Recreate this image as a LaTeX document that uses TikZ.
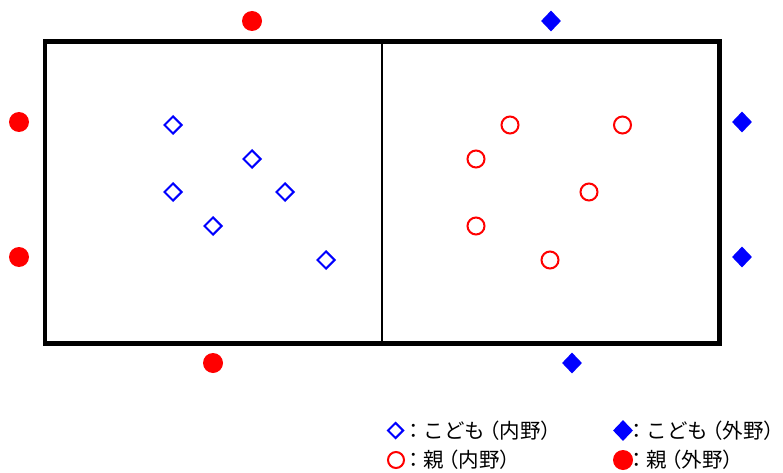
\documentclass[tikz,border=0pt]{standalone}
\usepackage{fontspec}
\newfontfamily\jp{Noto Sans CJK JP}
\usetikzlibrary{shapes.geometric}
\definecolor{mred}{RGB}{255,0,0}
\definecolor{mblue}{RGB}{0,0,255}
\newcommand{\jlp}{\hspace{-0.3em}（}
\newcommand{\jrp}{）\hspace{-0.5em}}
\tikzset{
  kidin/.style={shape=diamond, draw=mblue, line width=2pt, inner sep=0pt, minimum width=18pt, minimum height=18pt, aspect=1},
  kidout/.style={shape=diamond, fill=mblue, inner sep=0pt, minimum width=20pt, minimum height=21pt},
  parin/.style={shape=circle, draw=mred, line width=2pt, inner sep=0pt, minimum size=17pt},
  parout/.style={shape=circle, fill=mred, inner sep=0pt, minimum size=20pt},
  legtext/.style={anchor=west, inner sep=0pt, font=\jp\fontsize{20.5}{24}\selectfont},
}
\begin{document}
\begin{tikzpicture}[x=1pt,y=-1pt]
\useasboundingbox (0,0) rectangle (783,473);
% court
\coordinate (tl) at (44.75,41.3);
\coordinate (br) at (719.25,343.4);
\coordinate (mt) at (382,41.3);
\coordinate (mb) at (382,343.4);
\draw[line width=2.2pt] (mt) -- (mb);
\draw[line width=4.5pt] (tl) rectangle (br);
% inner kids
\node[kidin] (k1) at (173,125) {};
\node[kidin] (k2) at (252,159) {};
\node[kidin] (k3) at (173,192) {};
\node[kidin] (k4) at (285,192) {};
\node[kidin] (k5) at (213,226) {};
\node[kidin] (k6) at (326,260) {};
% inner parents
\node[parin] (p1) at (510,125) {};
\node[parin] (p2) at (622.5,125) {};
\node[parin] (p3) at (476,159) {};
\node[parin] (p4) at (589,192) {};
\node[parin] (p5) at (476,226) {};
\node[parin] (p6) at (550,260) {};
% outer parents
\node[parout] (o1) at (252,21) {};
\node[parout] (o2) at (19,122) {};
\node[parout] (o3) at (19,257) {};
\node[parout] (o4) at (213,363) {};
% outer kids
\node[kidout] (q1) at (551,21) {};
\node[kidout] (q2) at (742,122) {};
\node[kidout] (q3) at (742,257) {};
\node[kidout] (q4) at (572,363) {};
% legend
\node[kidin, minimum width=16pt, minimum height=16pt] (l1) at (395.5,430.5) {};
\node[legtext] (t1) at (403,430.5) {：こども\jlp 内野\jrp};
\node[kidout] (l2) at (623,430.5) {};
\node[legtext] (t2) at (626,430.5) {：こども\jlp 外野\jrp};
\node[parin, minimum size=16pt] (l3) at (396,460) {};
\node[legtext] (t3) at (403,460) {：親\jlp 内野\jrp};
\node[parout] (l4) at (623,460) {};
\node[legtext] (t4) at (626,460) {：親\jlp 外野\jrp};
\end{tikzpicture}
\end{document}
